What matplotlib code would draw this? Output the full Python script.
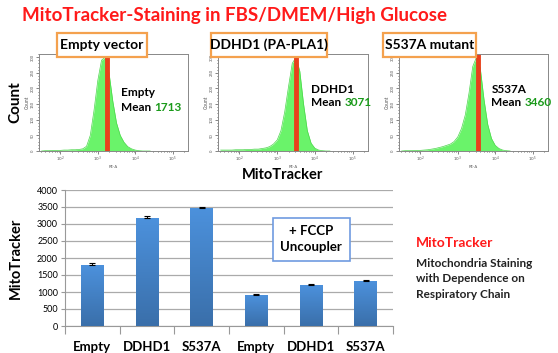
import numpy as np
import matplotlib
matplotlib.use('Agg')
import matplotlib.pyplot as plt
from matplotlib.patches import FancyBboxPatch

plt.rcParams['font.family'] = ['Lato', 'DejaVu Sans']

W, H = 558, 353

# histogram data: bin centres (log10 of PE-A) and counts
hist_log = [1.5, 1.6, 1.7, 1.8, 1.9, 2.0, 2.1, 2.2, 2.3, 2.4, 2.5, 2.6, 2.7, 2.8, 2.9,
            3.0, 3.1, 3.2, 3.3, 3.4, 3.5, 3.6, 3.7, 3.8, 3.9, 4.0, 4.1, 4.2, 4.3, 4.4]
hist_empty = [0, 1, 1, 2, 2, 2, 3, 3, 4, 4, 5, 7, 15, 50, 130, 225, 290, 300, 250, 160,
              90, 50, 28, 14, 7, 3, 1, 0, 0, 0]
hist_ddhd1 = [3, 3, 3, 3, 4, 4, 4, 5, 5, 6, 6, 8, 10, 14, 22, 35, 65, 125, 205, 280,
              300, 255, 150, 65, 25, 9, 3, 1, 0, 0]
hist_s537a = [0, 1, 1, 1, 2, 2, 3, 4, 6, 8, 11, 14, 18, 22, 30, 45, 72, 115, 185, 270,
              300, 265, 165, 85, 40, 18, 8, 3, 1, 0]
hist_means = [1713, 3071, 3460]
hist_names = ['Empty', 'DDHD1', 'S537A']
hist_titles = ['Empty vector', 'DDHD1 (PA-PLA1)', 'S537A mutant']

# bar chart data
bar_labels = ['Empty', 'DDHD1', 'S537A', 'Empty', 'DDHD1', 'S537A']
bar_values = [1780, 3170, 3470, 905, 1200, 1315]
bar_errors = [75, 80, 20, 25, 25, 50]

fig = plt.figure(figsize=(W / 100, H / 100), dpi=100)


def ax_px(x0, y0, x1, y1):
    # pixel box (top-left origin) -> figure axes
    return fig.add_axes([x0 / W, 1 - y1 / H, (x1 - x0) / W, (y1 - y0) / H])


def fx(x):
    return x / W


def fy(y):
    return 1 - y / H


fig.text(fx(22), fy(15), 'MitoTracker-Staining in FBS/DMEM/High Glucose', color='#ff1a1a',
         fontsize=13.5, fontweight='bold', va='center', ha='left')

panels = [(39, 54, 188, 151), (218, 54, 368, 151), (399, 54, 548, 151)]
box_px = [(57, 33, 147, 57), (211, 33, 327, 57), (383, 33, 476, 57)]
label_pos = [(0.55, 0.60, 0.445), (0.62, 0.63, 0.505), (0.62, 0.63, 0.505)]
hists = [hist_empty, hist_ddhd1, hist_s537a]
for i, (x0, y0, x1, y1) in enumerate(panels):
    ax = ax_px(x0, y0, x1, y1)
    xs = 10 ** np.array(hist_log)
    ax.fill_between(xs, hists[i], color='#6af36a', lw=0)
    ax.plot(xs, hists[i], color='#4cd64c', lw=0.5)
    ax.axvline(hist_means[i], color='#e8401c', lw=3.5)
    ax.set_xscale('log')
    ax.set_xlim(10 ** 1.43, 10 ** 5.41)
    ax.set_ylim(0, 310)
    ax.set_xticks([1e2, 1e3, 1e4, 1e5])
    ax.set_xticklabels(['$10^2$', '$10^3$', '$10^4$', '$10^5$'])
    ax.set_yticks(range(0, 301, 50))
    ax.set_yticks(range(0, 311, 10), minor=True)
    ax.tick_params(labelsize=3, length=2, width=0.5, pad=1, colors='#555555')
    ax.tick_params(which='minor', length=1, width=0.4)
    for lb in ax.get_yticklabels():
        lb.set_rotation(90)
        lb.set_va('center')
    ax.set_xlabel('PE-A', fontsize=3, labelpad=0.5, color='#555555')
    ax.set_ylabel('Count', fontsize=3.5, labelpad=1, color='#555555')
    for s in ax.spines.values():
        s.set_color('#888888')
        s.set_linewidth(0.7)
    lx, ly1, ly2 = label_pos[i]
    ax.text(lx, ly1, hist_names[i], transform=ax.transAxes, fontsize=8.5,
            fontweight='bold', ha='left', va='center')
    t = ax.text(lx, ly2, 'Mean', transform=ax.transAxes, fontsize=8.5,
                fontweight='bold', ha='left', va='center')
    ax.annotate(str(hist_means[i]), xy=(1, 0.5), xycoords=t, xytext=(2.5, 0),
                textcoords='offset points', fontsize=8.5, fontweight='bold',
                ha='left', va='center', color='#1a9a1a')
    bx0, by0, bx1, by1 = box_px[i]
    fig.patches.append(FancyBboxPatch((fx(bx0), fy(by1)), fx(bx1 - bx0), (by1 - by0) / H,
                                      boxstyle='square,pad=0', transform=fig.transFigure,
                                      facecolor='white', edgecolor='#f4a14e', lw=1.6,
                                      zorder=5))
    fig.text(fx((bx0 + bx1) / 2), fy((by0 + by1) / 2), hist_titles[i], fontsize=10,
             fontweight='bold', ha='center', va='center', zorder=6)

fig.text(fx(15), fy(102), 'Count', rotation=90, fontsize=11, fontweight='bold',
         ha='center', va='center')
fig.text(fx(283), fy(175), 'MitoTracker', fontsize=10.5, fontweight='bold',
         ha='center', va='center')

# bar chart
bax = ax_px(65, 190, 393, 326)
xpos = np.arange(len(bar_values))
bars = bax.bar(xpos, bar_values, width=0.41, color='#4a8bd0', zorder=3)
grad = np.linspace(0, 1, 100).reshape(-1, 1)
cmap = matplotlib.colors.LinearSegmentedColormap.from_list('b', ['#3a6faa', '#4c91dc'])
for b in bars:
    x, y = b.get_x(), b.get_y()
    bax.imshow(grad, cmap=cmap, origin='lower', aspect='auto', zorder=3,
               extent=[x, x + b.get_width(), y, y + b.get_height()])
    b.set_alpha(0)
bax.errorbar(xpos, bar_values, yerr=[[0] * len(bar_errors), bar_errors], fmt='none',
             ecolor='black', elinewidth=0.8, capsize=2.5, capthick=0.8, zorder=4)
bax.set_xlim(-0.5, len(bar_values) - 0.5)
bax.set_ylim(0, 4000)
bax.set_yticks(range(0, 4001, 500))
bax.yaxis.grid(True, color='#aaaaaa', lw=0.9, zorder=0)
bax.set_axisbelow(True)
bax.set_xticks(xpos)
bax.set_xticklabels(bar_labels, fontsize=9.5, fontweight='bold')
bax.set_xticks(np.arange(-0.5, len(bar_values), 1.0), minor=True)
bax.tick_params(axis='x', which='major', length=0, pad=11)
bax.tick_params(axis='x', which='minor', length=6, color='#999999', width=0.8)
bax.tick_params(axis='y', labelsize=6.5, length=3, color='#999999', pad=2)
for s in ['top', 'right']:
    bax.spines[s].set_visible(False)
for s in ['left', 'bottom']:
    bax.spines[s].set_color('#999999')
    bax.spines[s].set_linewidth(0.8)
bax.set_ylabel('MitoTracker', fontsize=10.5, fontweight='bold', labelpad=10)

fig.patches.append(FancyBboxPatch((fx(273), fy(261)), fx(77), 43 / H, boxstyle='square,pad=0',
                                  transform=fig.transFigure, facecolor='white',
                                  edgecolor='#6f9be0', lw=1.2, zorder=5))
fig.text(fx(311), fy(239), '+ FCCP\nUncoupler', fontsize=9.5, fontweight='bold',
         ha='center', va='center', linespacing=1.4, zorder=6)

fig.text(fx(416), fy(243), 'MitoTracker', color='#ff1a1a', fontsize=10, fontweight='bold',
         ha='left', va='center')
fig.text(fx(416), fy(279), 'Mitochondria Staining\nwith Dependence on\nRespiratory Chain',
         color='#222222', fontsize=8.5, fontweight='bold', ha='left', va='center',
         linespacing=1.45)

fig.savefig('out.png', dpi=100)
